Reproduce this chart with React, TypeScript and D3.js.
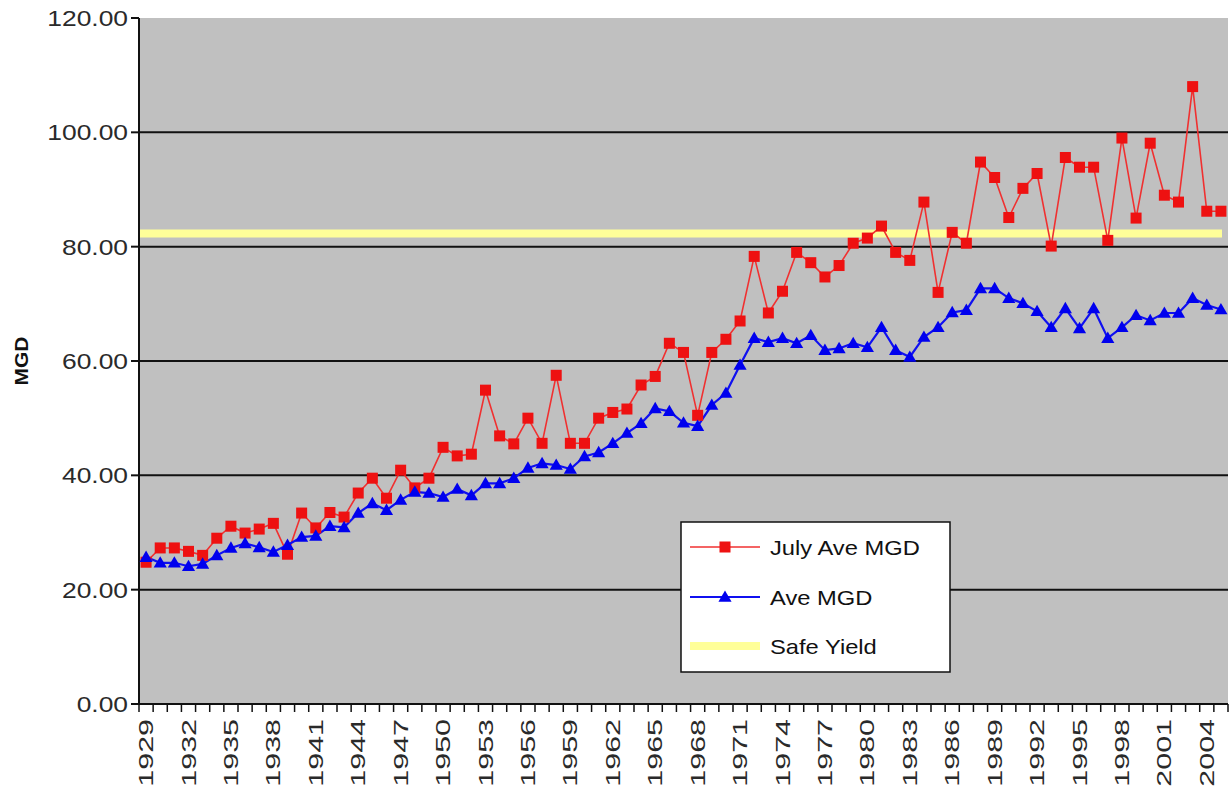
import React from "react";
import * as d3 from "d3";

const years: number[] = d3.range(1929, 2006);
const julyAve: number[] = [
  24.8, 27.3, 27.3, 26.7, 26.0, 29.0, 31.1, 29.9, 30.6, 31.6,
  26.2, 33.4, 30.8, 33.5, 32.7, 36.9, 39.5, 36.0, 40.9, 37.8,
  39.5, 44.9, 43.4, 43.7, 54.9, 46.9, 45.5, 50.0, 45.6, 57.5,
  45.6, 45.6, 50.0, 51.0, 51.6, 55.8, 57.3, 63.1, 61.5, 50.5,
  61.5, 63.8, 67.0, 78.3, 68.4, 72.2, 79.0, 77.2, 74.7, 76.7,
  80.6, 81.5, 83.6, 79.0, 77.6, 87.8, 72.0, 82.5, 80.6, 94.8,
  92.1, 85.1, 90.2, 92.8, 80.1, 95.6, 93.9, 93.9, 81.1, 99.0,
  85.0, 98.1, 89.0, 87.8, 108.0, 86.2, 86.2,
];
const aveMgd: number[] = [
  25.7, 24.7, 24.7, 24.1, 24.5, 26.0, 27.3, 28.1, 27.4, 26.6,
  27.8, 29.2, 29.4, 31.1, 30.9, 33.4, 35.1, 33.9, 35.7, 37.1,
  36.9, 36.2, 37.6, 36.5, 38.6, 38.6, 39.5, 41.3, 42.1, 41.8,
  41.1, 43.3, 44.0, 45.6, 47.4, 49.1, 51.7, 51.2, 49.2, 48.6,
  52.3, 54.4, 59.3, 64.0, 63.3, 64.0, 63.1, 64.5, 61.9, 62.2,
  63.1, 62.4, 65.9, 61.9, 60.7, 64.2, 65.9, 68.5, 68.9, 72.7,
  72.7, 71.0, 70.1, 68.7, 65.9, 69.2, 65.7, 69.2, 64.0, 65.9,
  68.0, 67.1, 68.4, 68.4, 71.0, 69.8, 69.0,
];
const safeYield = 82.3;
const yTicks: number[] = [0, 20, 40, 60, 80, 100, 120];
const seriesNames: string[] = ["July Ave MGD", "Ave MGD", "Safe Yield"];
const yLabel = "MGD";

const W = 1231;
const H = 797;
const M = { left: 139, right: 1228, top: 18, bottom: 704 };

export default function App() {
  const x = d3.scaleBand<number>().domain(years).range([M.left, M.right]);
  const y = d3.scaleLinear().domain([0, 120]).range([M.bottom, M.top]);
  const cx = (yr: number) => (x(yr) as number) + x.bandwidth() / 2;
  const line = d3
    .line<number>()
    .x((_, i) => cx(years[i]))
    .y((v) => y(v));
  const tri = d3.symbol().type(d3.symbolTriangle).size(75)();
  const font = "Liberation Sans, Arial, sans-serif";
  const textColor = "#2a2a2a";

  const legX = 681;
  const legY = 522;
  const legRows = [547, 597, 646];

  return (
    <svg
      width={W}
      height={H}
      style={{ position: "absolute", left: 0, top: 0, background: "#fff" }}
      fontFamily={font}
    >
      <rect x={M.left} y={M.top} width={M.right - M.left} height={M.bottom - M.top} fill="#c0c0c0" />
      {yTicks.filter((t) => t > 0 && t < 120).map((t) => (
        <line key={t} x1={M.left} x2={M.right} y1={y(t)} y2={y(t)} stroke="#111" strokeWidth={2} />
      ))}
      {/* safe yield */}
      <line
        x1={M.left + 1}
        x2={M.right - 6}
        y1={y(safeYield)}
        y2={y(safeYield)}
        stroke="#ffff99"
        strokeWidth={8}
      />
      {/* axes */}
      <line x1={M.left} x2={M.left} y1={M.top} y2={M.bottom} stroke="#111" strokeWidth={2} />
      <line x1={M.left - 8} x2={M.right} y1={M.bottom} y2={M.bottom} stroke="#111" strokeWidth={2} />
      {yTicks.map((t) => (
        <g key={t}>
          <line x1={M.left - 8} x2={M.left} y1={y(t)} y2={y(t)} stroke="#111" strokeWidth={2} />
          <text
            transform={`translate(${M.left - 11},${y(t)}) scale(1.2,1)`}
            dy="0.36em"
            textAnchor="end"
            fontSize={22}
            fill={textColor}
          >
            {t.toFixed(2)}
          </text>
        </g>
      ))}
      <text
        transform={`translate(28,361) rotate(-90) scale(1.1,1)`}
        textAnchor="middle"
        fontSize={19}
        fontWeight="bold"
        fill="#111"
      >
        {yLabel}
      </text>
      {years.map((yr) => (
        <line
          key={"t" + yr}
          x1={x(yr) as number}
          x2={x(yr) as number}
          y1={M.bottom}
          y2={M.bottom + 8}
          stroke="#111"
          strokeWidth={1.5}
        />
      ))}
      <line x1={M.right} x2={M.right} y1={M.bottom} y2={M.bottom + 8} stroke="#111" strokeWidth={1.5} />
      {years.filter((_, i) => i % 3 === 0).map((yr) => (
        <text
          key={"l" + yr}
          transform={`translate(${cx(yr) + 7},${M.bottom + 15}) rotate(-90) scale(1.45,1)`}
          textAnchor="end"
          fontSize={21}
          fill={textColor}
        >
          {yr}
        </text>
      ))}
      {/* series */}
      <path d={line(julyAve) || ""} fill="none" stroke="#f03030" strokeWidth={1.6} />
      <path d={line(aveMgd) || ""} fill="none" stroke="#1010f0" strokeWidth={2.2} />
      {julyAve.map((v, i) => (
        <rect key={"r" + i} x={cx(years[i]) - 5.5} y={y(v) - 5.5} width={11} height={11} fill="#ee1111" />
      ))}
      {aveMgd.map((v, i) => (
        <path key={"b" + i} d={tri || ""} transform={`translate(${cx(years[i])},${y(v) + 1})`} fill="#0000ee" />
      ))}
      {/* legend */}
      <rect x={legX} y={legY} width={269} height={150} fill="#fff" stroke="#111" strokeWidth={1.5} />
      <line x1={690} x2={760} y1={legRows[0]} y2={legRows[0]} stroke="#f03030" strokeWidth={1.6} />
      <rect x={725 - 5.5} y={legRows[0] - 5.5} width={11} height={11} fill="#ee1111" />
      <line x1={690} x2={760} y1={legRows[1]} y2={legRows[1]} stroke="#1010f0" strokeWidth={2.2} />
      <path d={tri || ""} transform={`translate(725,${legRows[1] + 1})`} fill="#0000ee" />
      <line x1={690} x2={760} y1={legRows[2]} y2={legRows[2]} stroke="#ffff99" strokeWidth={8} />
      {seriesNames.map((n, i) => (
        <text
          key={n}
          transform={`translate(770,${legRows[i]}) scale(1.13,1)`}
          dy="0.36em"
          fontSize={21}
          fill="#111"
        >
          {n}
        </text>
      ))}
    </svg>
  );
}
